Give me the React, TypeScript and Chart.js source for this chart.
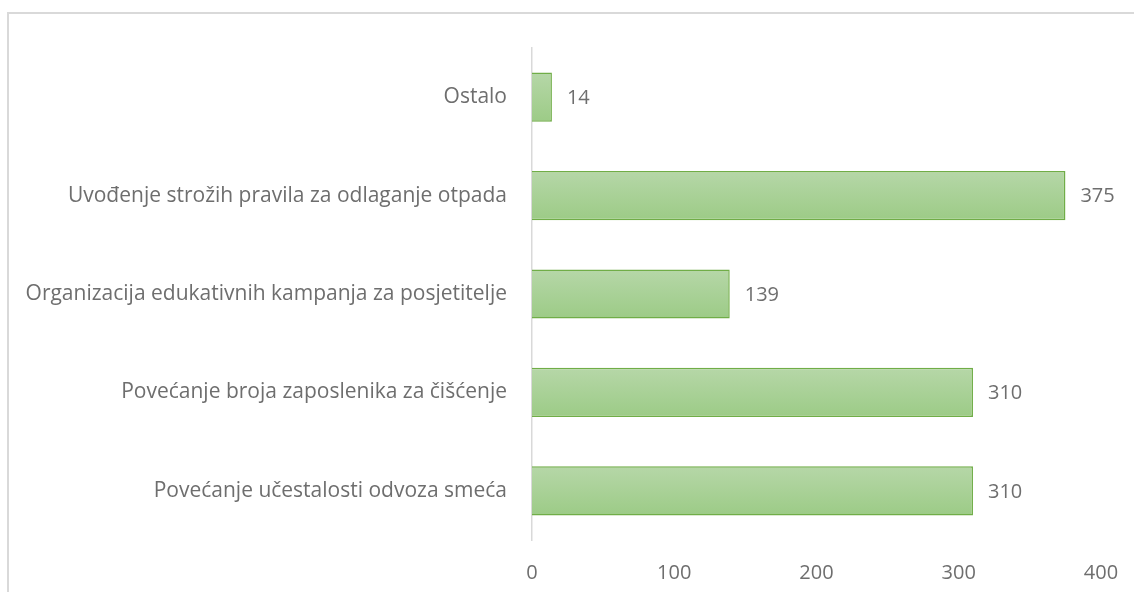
import React, { useEffect, useRef } from "react";
import { Chart, registerables } from "chart.js";

Chart.register(...registerables);

const categories = [
  "Ostalo",
  "Uvođenje strožih pravila za odlaganje otpada",
  "Organizacija edukativnih kampanja za posjetitelje",
  "Povećanje broja zaposlenika za čišćenje",
  "Povećanje učestalosti odvoza smeća",
];
const values = [14, 375, 139, 310, 310];
const xTicks = [0, 100, 200, 300, 400];

const FONT = "'Open Sans', Lato, sans-serif";
const TEXT = "#6e6e6e";

export default function App() {
  const ref = useRef<HTMLCanvasElement | null>(null);

  useEffect(() => {
    document.body.style.margin = "0";
    const canvas = ref.current!;
    const labelPlugin = {
      id: "valueLabels",
      afterDatasetsDraw(chart: any) {
        const ctx = chart.ctx;
        const meta = chart.getDatasetMeta(0);
        ctx.save();
        ctx.fillStyle = TEXT;
        ctx.font = `20px ${FONT}`;
        ctx.textAlign = "left";
        ctx.textBaseline = "middle";
        meta.data.forEach((el: any, i: number) => {
          ctx.fillText(String(values[i]), el.x + 15, el.y + 1);
        });
        ctx.restore();
      },
    };
    const chart = new Chart(canvas, {
      type: "bar",
      data: {
        labels: categories,
        datasets: [
          {
            data: values,
            backgroundColor: (c: any) => {
              const ch = c.chart;
              const y = ch.scales?.y;
              if (!y || c.dataIndex === undefined) return "#a9d196";
              const cy = y.getPixelForValue(c.dataIndex);
              if (!isFinite(cy)) return "#a9d196";
              const h = 25;
              const g = ch.ctx.createLinearGradient(0, cy - h, 0, cy + h);
              g.addColorStop(0, "#b6d7a8");
              g.addColorStop(1, "#9ccb86");
              return g;
            },
            borderColor: "#70ad47",
            borderWidth: 1.5,
            categoryPercentage: 1,
            barPercentage: 0.5,
          },
        ],
      },
      options: {
        indexAxis: "y",
        animation: false,
        responsive: false,
        layout: { padding: { left: 0, top: 48, right: 33, bottom: 0 } },
        plugins: {
          legend: { display: false },
          tooltip: { enabled: false },
        },
        scales: {
          y: {
            afterFit: (s: any) => {
              s.width = 532;
              s.paddingTop = 0;
              s.paddingBottom = 0;
            },
            grid: { display: false, drawTicks: false },
            border: { display: true, color: "#d9d9d9", width: 1.5 },
            ticks: {
              padding: 25,
              color: TEXT,
              font: { family: FONT, size: 21 },
            },
          },
          x: {
            min: 0,
            max: 400,
            afterFit: (s: any) => {
              s.height = 52;
              s.paddingLeft = 0;
              s.paddingRight = 0;
            },
            afterBuildTicks: (s: any) => {
              s.ticks = xTicks.map((v) => ({ value: v }));
            },
            grid: { display: false, drawTicks: false },
            border: { display: false },
            ticks: {
              padding: 21,
              color: TEXT,
              font: { family: FONT, size: 20 },
            },
          },
        },
      },
      plugins: [labelPlugin],
    } as any);
    return () => chart.destroy();
  }, []);

  return (
    <div style={{ position: "relative", width: 1134, height: 592, overflow: "hidden", background: "#fff" }}>
      <div
        style={{
          position: "absolute",
          left: 7,
          top: 12,
          width: 1200,
          height: 700,
          border: "2px solid #d9d9d9",
          boxSizing: "border-box",
        }}
      />
      <canvas ref={ref} width={1134} height={592} style={{ position: "absolute", left: 0, top: 0 }} />
    </div>
  );
}
